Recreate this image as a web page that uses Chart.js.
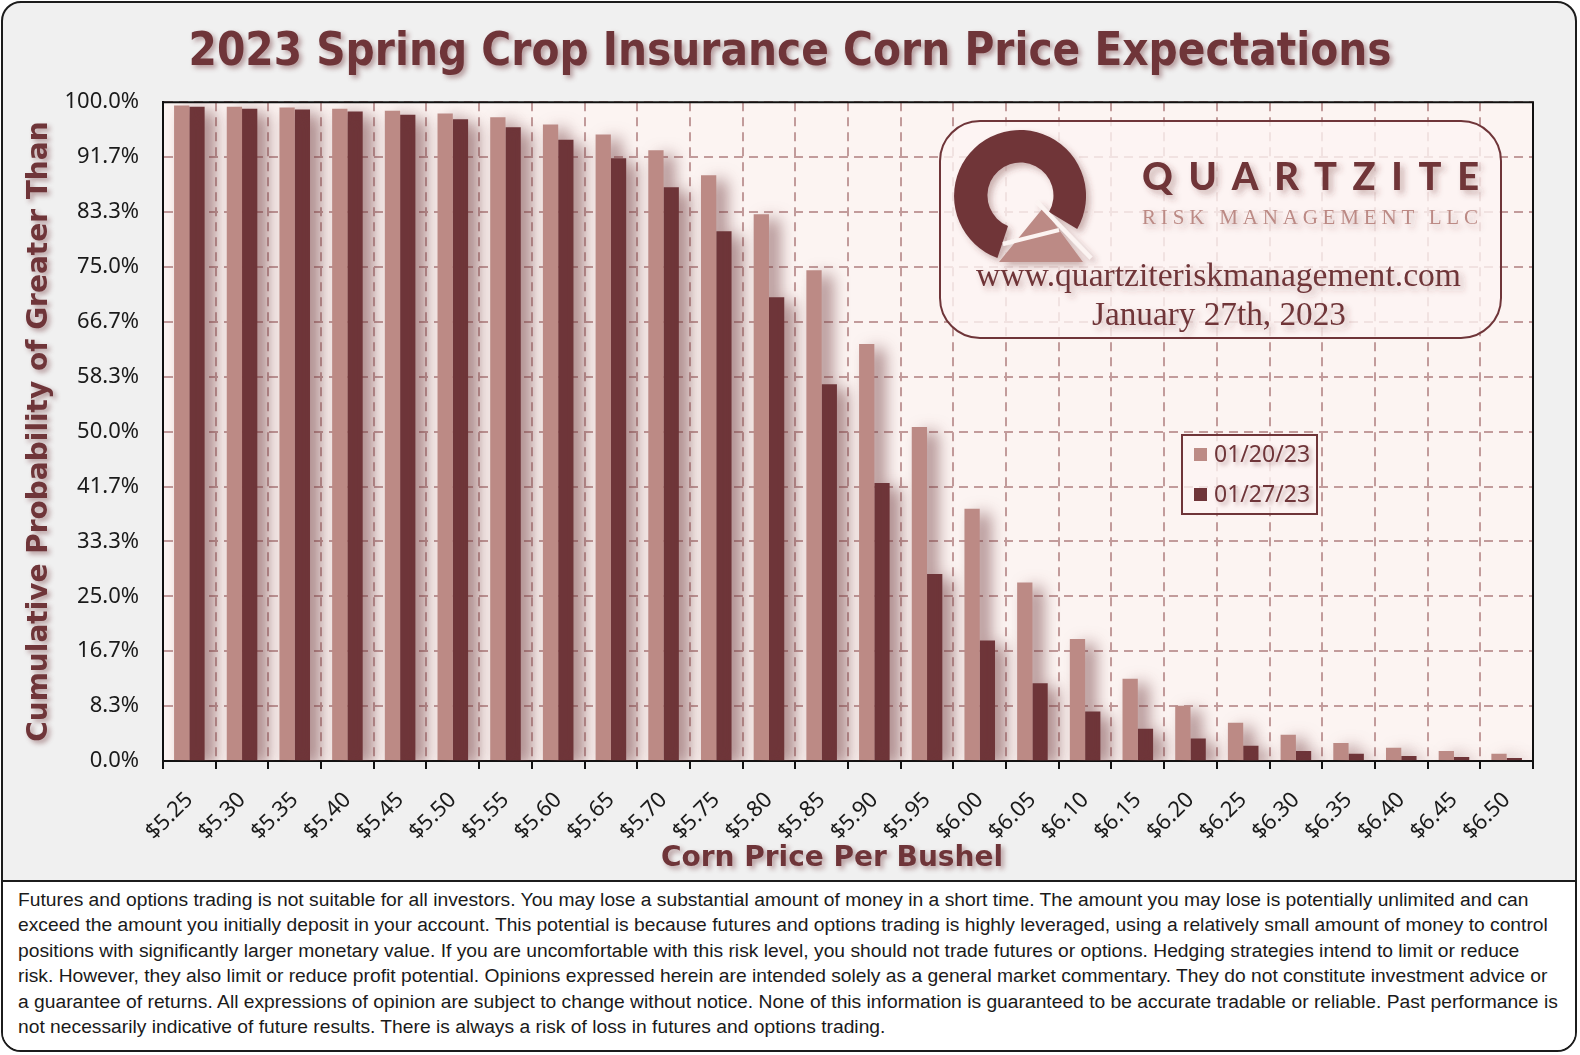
<!DOCTYPE html>
<html>
<head>
<meta charset="utf-8">
<script src="https://cdn.jsdelivr.net/npm/chart.js@4.4.0/dist/chart.umd.min.js"></script>
<style>
  html, body { margin: 0; padding: 0; background: #ffffff; }
  body { width: 1580px; height: 1055px; position: relative; overflow: hidden; }
  #frame {
    position: absolute; left: 1px; top: 1px; width: 1576px; height: 1051px;
    box-sizing: border-box; border: 2px solid #1c1c1c; border-radius: 20px;
    background: #f0f0f0; overflow: hidden;
  }
  #footer {
    position: absolute; left: 0; right: 0; top: 877px; bottom: 0;
    background: #ffffff; border-top: 2px solid #1c1c1c;
    font-family: "Liberation Sans", Arial, sans-serif; font-size: 19.25px; line-height: 25.4px;
    color: #1a1a1a; padding: 5px 0 0 15px; box-sizing: border-box;
  }
  #footer div { white-space: nowrap; }
  #chart { position: absolute; left: 0; top: 0; }
  #logo { position: absolute; left: 939px; top: 120px; }
</style>
</head>
<body>
<div id="frame"><div id="footer"></div></div>
<canvas id="chart" width="1580" height="879"></canvas>
<svg id="logo" width="564" height="220" viewBox="0 0 564 220">
  <defs>
    <filter id="sh" x="-10%" y="-20%" width="130%" height="150%">
      <feDropShadow dx="4" dy="4" stdDeviation="3" flood-color="#6f3539" flood-opacity="0.35"/>
    </filter>
  </defs>
  <rect x="1" y="1" width="561" height="217" rx="40" ry="40" fill="rgba(252,244,242,0.8)" stroke="#6f3539" stroke-width="2"/>
  <g filter="url(#sh)">
    <path d="M58.4 138 A66 66 0 1 1 138.2 109 L110 92 A33 33 0 1 0 69 106 Z" fill="#6f3539"/>
    <path d="M104 88 L144 142 L60 142 Z" fill="#bc8a85"/>
    <line x1="64" y1="124" x2="120" y2="110" stroke="#fcf4f2" stroke-width="4"/>
    <line x1="98" y1="82" x2="152" y2="138" stroke="#fcf4f2" stroke-width="4"/>
  </g>
  <g filter="url(#sh)">
    <text x="203" y="70" font-family="Lato, 'DejaVu Sans', sans-serif" font-weight="900" font-size="38" fill="#6f3539" textLength="337" lengthAdjust="spacing">QUARTZITE</text>
    <text x="203" y="104" font-family="'Liberation Serif', serif" font-size="21" fill="#bc8a85" textLength="336" lengthAdjust="spacing">RISK MANAGEMENT LLC</text>
    <text x="37" y="166" font-family="'Liberation Serif', serif" font-size="33" fill="#6f3539" textLength="485" lengthAdjust="spacingAndGlyphs">www.quartziteriskmanagement.com</text>
    <text x="153" y="205" font-family="'Liberation Serif', serif" font-size="33" fill="#6f3539" textLength="254" lengthAdjust="spacingAndGlyphs">January 27th, 2023</text>
  </g>
</svg>
<script>
// Data
const chartTitle = "2023 Spring Crop Insurance Corn Price Expectations";
const xTitle = "Corn Price Per Bushel";
const yTitle = "Cumulative Probability of Greater Than";
const seriesNames = ["01/20/23", "01/27/23"];
const priceLabels = ["$5.25", "$5.30", "$5.35", "$5.40", "$5.45", "$5.50", "$5.55", "$5.60", "$5.65",
  "$5.70", "$5.75", "$5.80", "$5.85", "$5.90", "$5.95", "$6.00", "$6.05", "$6.10", "$6.15",
  "$6.20", "$6.25", "$6.30", "$6.35", "$6.40", "$6.45", "$6.50"];
const prob0120 = [99.5, 99.3, 99.2, 99.0, 98.7, 98.3, 97.7, 96.6, 95.1, 92.7, 88.9, 83.0, 74.5,
  63.3, 50.7, 38.3, 27.1, 18.5, 12.5, 8.4, 5.8, 4.0, 2.75, 2.0, 1.5, 1.1];
const prob0127 = [99.3, 99.0, 98.9, 98.6, 98.1, 97.4, 96.2, 94.3, 91.5, 87.1, 80.4, 70.4, 57.2,
  42.2, 28.4, 18.3, 11.8, 7.5, 4.9, 3.4, 2.3, 1.5, 1.1, 0.76, 0.6, 0.46];
const yTickLabels = ["0.0%", "8.3%", "16.7%", "25.0%", "33.3%", "41.7%", "50.0%", "58.3%",
  "66.7%", "75.0%", "83.3%", "91.7%", "100.0%"];
const disclaimerLines = [
  "Futures and options trading is not suitable for all investors. You may lose a substantial amount of money in a short time. The amount you may lose is potentially unlimited and can",
  "exceed the amount you initially deposit in your account. This potential is because futures and options trading is highly leveraged, using a relatively small amount of money to control",
  "positions with significantly larger monetary value. If you are uncomfortable with this risk level, you should not trade futures or options. Hedging strategies intend to limit or reduce",
  "risk. However, they also limit or reduce profit potential. Opinions expressed herein are intended solely as a general market commentary. They do not constitute investment advice or",
  "a guarantee of returns. All expressions of opinion are subject to change without notice. None of this information is guaranteed to be accurate tradable or reliable. Past performance is",
  "not necessarily indicative of future results. There is always a risk of loss in futures and options trading."
];

// Colours
const lightRose = "#bc8a85";
const maroon = "#6f3539";
const plotBg = "#fcf4f2";
const gridColor = "#c29b9b";

// Footer text
const footer = document.getElementById("footer");
disclaimerLines.forEach(line => {
  const div = document.createElement("div");
  div.textContent = line;
  footer.appendChild(div);
});

// plot background, bar shadows, top/right border, legend
const plotDecor = {
  id: "plotDecor",
  beforeDraw(chart) {
    const {ctx, chartArea: a} = chart;
    ctx.save();
    ctx.fillStyle = plotBg;
    ctx.fillRect(a.left, a.top, a.right - a.left, a.bottom - a.top);
    ctx.restore();
  },
  beforeDatasetsDraw(chart) {
    const ctx = chart.ctx;
    ctx.save();
    ctx.shadowColor = "rgba(110, 55, 58, 0.6)";
    ctx.shadowBlur = 16;
    ctx.shadowOffsetX = 10;
    ctx.shadowOffsetY = 5;
  },
  afterDatasetsDraw(chart) {
    chart.ctx.restore();
  },
  afterDraw(chart) {
    const {ctx, chartArea: a} = chart;
    ctx.save();
    ctx.strokeStyle = "#111111";
    ctx.lineWidth = 2;
    ctx.beginPath();
    ctx.moveTo(a.left, a.top);
    ctx.lineTo(a.right, a.top);
    ctx.lineTo(a.right, a.bottom);
    ctx.stroke();

    // legend
    const bx = 1182, by = 435, bw = 135, bh = 79;
    ctx.fillStyle = "rgba(252,244,242,0.8)";
    ctx.fillRect(bx, by, bw, bh);
    ctx.strokeStyle = maroon;
    ctx.strokeRect(bx, by, bw, bh);
    ctx.font = "23px 'Noto Sans'";
    ctx.textBaseline = "middle";
    chart.data.datasets.forEach((ds, i) => {
      const cy = by + 20 + i * 40;
      ctx.shadowColor = "transparent";
      ctx.fillStyle = ds.backgroundColor;
      ctx.fillRect(bx + 12, cy - 7, 13, 13);
      ctx.shadowColor = "rgba(111,53,57,0.4)";
      ctx.shadowBlur = 4;
      ctx.shadowOffsetX = 3;
      ctx.shadowOffsetY = 3;
      ctx.fillStyle = maroon;
      ctx.fillText(ds.label, bx + 32, cy);
    });
    ctx.restore();
  }
};

// shadowed titles
const shadowText = {
  id: "shadowText",
  afterLayout(chart) {
    const ctx = chart.ctx;
    const wrap = (obj, key, dx, width) => {
      if (!obj || obj["_sh_" + key]) return;
      const orig = obj[key];
      obj["_sh_" + key] = true;
      obj[key] = function () {
        ctx.save();
        ctx.shadowColor = "rgba(111,53,57,0.45)";
        ctx.shadowBlur = 5;
        ctx.shadowOffsetX = 3;
        ctx.shadowOffsetY = 3;
        if (width) {
          ctx.font = Chart.helpers.toFont(this.options.font).string;
          const s = width / ctx.measureText(this.options.text).width;
          const cx = (this.left + this.right) / 2;
          ctx.translate(cx + dx, 0);
          ctx.scale(s, 1);
          ctx.translate(-cx, 0);
        } else {
          ctx.translate(dx, 0);
        }
        orig.apply(this, arguments);
        ctx.restore();
      };
    };
    wrap(chart.titleBlock, "draw", 23.5, 1203);
    wrap(chart.scales.x, "drawTitle", -16, 0);
    wrap(chart.scales.y, "drawTitle", 0, 0);
  }
};

const chart = new Chart(document.getElementById("chart"), {
  type: "bar",
  data: {
    labels: priceLabels,
    datasets: [
      { label: seriesNames[0], data: prob0120, backgroundColor: lightRose },
      { label: seriesNames[1], data: prob0127, backgroundColor: maroon }
    ]
  },
  options: {
    responsive: false,
    animation: false,
    layout: { padding: { left: 0, right: 47, top: 0, bottom: 0 } },
    datasets: { bar: { categoryPercentage: 0.58, barPercentage: 1 } },
    plugins: {
      legend: { display: false },
      tooltip: { enabled: false },
      title: {
        display: true,
        text: chartTitle,
        color: maroon,
        font: { family: "DejaVu Sans", size: 46, weight: "bold" },
        padding: { top: 25, bottom: 22 }
      }
    },
    scales: {
      x: {
        afterFit(scale) { scale.height = 118; },
        grid: {
          offset: true, color: gridColor, lineWidth: 2,
          drawTicks: true, tickLength: 8, tickColor: "#111111", tickWidth: 2, tickBorderDash: []
        },
        border: { display: true, color: "#111111", width: 2, dash: [9, 6] },
        ticks: {
          autoSkip: false, maxRotation: 45, minRotation: 45, padding: 18,
          color: "#1a1a1a", font: { family: "Noto Sans", size: 22 }
        },
        title: {
          display: true, text: xTitle, color: maroon,
          font: { family: "DejaVu Sans", size: 28, weight: "bold" },
          padding: { top: 0, bottom: 3 }
        }
      },
      y: {
        min: 0,
        max: 100,
        afterFit(scale) { scale.width = 163; },
        afterBuildTicks(scale) {
          scale.ticks = yTickLabels.map((t, i) => ({ value: i * 100 / (yTickLabels.length - 1) }));
        },
        grid: { color: gridColor, lineWidth: 2, drawTicks: false },
        border: { display: true, color: "#111111", width: 2, dash: [9, 6] },
        ticks: {
          padding: 24, color: "#1a1a1a", font: { family: "Noto Sans", size: 22 },
          callback: (v, i) => yTickLabels[i]
        },
        title: {
          display: true, text: yTitle, color: maroon,
          font: { family: "DejaVu Sans", size: 28, weight: "bold" },
          padding: { top: 23, bottom: 0 }
        }
      }
    }
  },
  plugins: [plotDecor, shadowText]
});
</script>
</body>
</html>
